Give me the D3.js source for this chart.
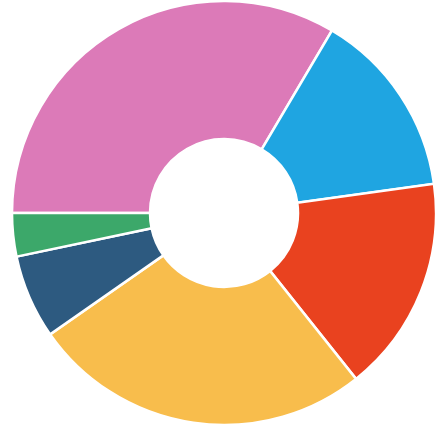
<!DOCTYPE html>
<html>
<head>
<meta charset="utf-8">
<script src="https://cdn.jsdelivr.net/npm/d3@7"></script>
<style>
  html, body { margin: 0; padding: 0; background: #ffffff; overflow: hidden; }
  svg { display: block; }
</style>
</head>
<body>
<svg id="chart" width="436" height="434"></svg>
<script>
// Share of each segment (percent), listed clockwise from 9 o'clock
const categories = ["A", "B", "C", "D", "E", "F"];
const values = [33.5, 14.3, 16.5, 26.0, 6.4, 3.3];
const colors = ["#dc7ab8", "#1fa5e1", "#e9421f", "#f8bd4c", "#2d5a80", "#3ca86a"];

const width = 436, height = 434;
const cx = 224, cy = 213;
const outerR = 212, innerR = 74;

const svg = d3.select("#chart");

const color = d3.scaleOrdinal().domain(categories).range(colors);

const pie = d3.pie()
  .sort(null)
  .value(d => d.value)
  .startAngle(-Math.PI / 2)
  .endAngle(3 * Math.PI / 2);

const arc = d3.arc().innerRadius(innerR).outerRadius(outerR);

const data = categories.map((c, i) => ({ category: c, value: values[i] }));

svg.append("g")
  .attr("transform", `translate(${cx},${cy})`)
  .selectAll("path")
  .data(pie(data))
  .join("path")
  .attr("d", arc)
  .attr("fill", d => color(d.data.category))
  .attr("stroke", "#ffffff")
  .attr("stroke-width", 2.5)
  .attr("stroke-linejoin", "miter");
</script>
</body>
</html>
